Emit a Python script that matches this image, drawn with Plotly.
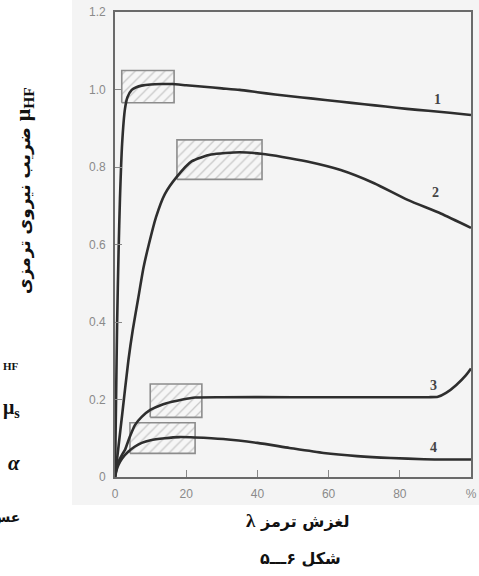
import plotly.graph_objects as go

# ---- data ----
c1_x = [0, 0.3, 0.6, 1.0, 1.4, 2.0, 2.8, 3.5, 4.7, 6, 7.5, 10, 13, 16, 20, 25, 30, 35, 40, 45, 50, 55, 63, 70, 76, 82, 88, 94, 100]
c1_y = [0, 0.2, 0.4, 0.58, 0.72, 0.86, 0.95, 0.98, 0.999, 1.006, 1.01, 1.013, 1.014, 1.014, 1.011, 1.007, 1.003, 0.999, 0.993, 0.987, 0.982, 0.977, 0.969, 0.962, 0.956, 0.95, 0.945, 0.94, 0.934]

c2_x = [0, 1, 2, 3.75, 5, 6.5, 8, 9.5, 11.5, 14, 17.4, 21.6, 27, 35, 41, 47, 54, 63.4, 72.8, 82.2, 91.5, 100]
c2_y = [0, 0.08, 0.16, 0.3, 0.38, 0.46, 0.54, 0.6, 0.67, 0.73, 0.775, 0.815, 0.832, 0.838, 0.834, 0.826, 0.814, 0.792, 0.758, 0.715, 0.68, 0.643]

c3_x = [0, 0.5, 1, 2, 2.8, 4, 5.6, 7.5, 9.9, 13, 16, 19, 22.5, 30, 50, 70, 88, 90.7, 93, 95.8, 98.6, 100]
c3_y = [0, 0.025, 0.04, 0.058, 0.07, 0.1, 0.134, 0.155, 0.173, 0.186, 0.194, 0.2, 0.205, 0.206, 0.206, 0.206, 0.206, 0.207, 0.217, 0.237, 0.263, 0.28]

c4_x = [0, 0.5, 1, 2, 3.7, 5.5, 7.5, 10, 14, 18, 22.5, 30.4, 40, 49, 58.6, 68, 77.5, 86.8, 100]
c4_y = [0, 0.02, 0.032, 0.048, 0.065, 0.078, 0.088, 0.095, 0.1, 0.103, 0.102, 0.098, 0.088, 0.075, 0.062, 0.054, 0.049, 0.046, 0.045]

# hatched tolerance boxes: x0, x1, y0, y1
box_x0 = [1.9, 17.4, 9.9, 4.2]
box_x1 = [16.6, 41.3, 24.4, 22.5]
box_y0 = [0.966, 0.768, 0.154, 0.061]
box_y1 = [1.049, 0.870, 0.240, 0.140]

curve_labels = ["1", "2", "3", "4"]
label_x = [90.7, 90.0, 89.6, 89.6]
label_y = [0.975, 0.735, 0.237, 0.077]

y_tickvals = [0, 0.2, 0.4, 0.6, 0.8, 1.0, 1.2]
y_ticktext = ["0", "0.2", "0.4", "0.6", "0.8", "1.0", "1.2"]
x_tickvals = [0, 20, 40, 60, 80, 100]
x_ticktext = ["0", "20", "40", "60", "80", "%"]

fig = go.Figure()

# boxes first (behind curves)
for i in range(len(box_x0)):
    fig.add_trace(go.Scatter(
        x=[box_x0[i], box_x1[i], box_x1[i], box_x0[i], box_x0[i]],
        y=[box_y0[i], box_y0[i], box_y1[i], box_y1[i], box_y0[i]],
        mode="lines", fill="toself",
        fillcolor="rgba(0,0,0,0)",
        fillpattern=dict(shape="/", fgcolor="#9a9a9a", bgcolor="#f6f6f6", size=7, solidity=0.18),
        line=dict(color="#8c8c8c", width=1.6),
        hoverinfo="skip", showlegend=False))

for cx, cy in [(c1_x, c1_y), (c2_x, c2_y), (c3_x, c3_y), (c4_x, c4_y)]:
    fig.add_trace(go.Scatter(x=cx, y=cy, mode="lines",
                             line=dict(color="#2e2e2e", width=2.6, shape="spline", smoothing=0.6),
                             showlegend=False, hoverinfo="skip"))

annotations = []
for t, lx, ly in zip(curve_labels, label_x, label_y):
    annotations.append(dict(x=lx, y=ly, xref="x", yref="y", text="<b>%s</b>" % t, showarrow=False,
                            font=dict(family="Liberation Serif", size=14, color="#444")))

# y-axis title (rotated)
annotations.append(dict(
    x=-0.256, y=0.617, xref="paper", yref="paper", textangle=-90,
    xanchor="center", yanchor="middle", showarrow=False,
    text="<b>ضریب نیروی ترمزی <span style='font-family:Liberation Serif;font-size:22px'>μ<sub>HF</sub></span></b>",
    font=dict(family="DejaVu Sans", size=17, color="#111")))

# x-axis title
annotations.append(dict(
    x=0.514, y=-0.0946, xref="paper", yref="paper", xanchor="center", yanchor="middle", showarrow=False,
    text="<b><span style='font-family:Liberation Serif;font-size:19px'>λ</span> لغزش ترمز</b>",
    font=dict(family="DejaVu Sans", size=16, color="#111")))

# figure caption
annotations.append(dict(
    x=0.522, y=-0.176, xref="paper", yref="paper", xanchor="center", yanchor="middle", showarrow=False,
    text="<b>۵\u200eـــ\u200e۶ شکل</b>",
    font=dict(family="DejaVu Sans", size=16, color="#111")))

# clipped fragments of neighbouring page text at the left edge
annotations += [
    dict(x=-0.2635, y=0.238, xref="paper", yref="paper", xanchor="right", yanchor="middle", showarrow=False,
         text="<b>HF</b>", font=dict(family="Liberation Serif", size=11, color="#111")),
    dict(x=-0.261, y=0.148, xref="paper", yref="paper", xanchor="right", yanchor="middle", showarrow=False,
         text="<b>μ<sub>s</sub></b>", font=dict(family="Liberation Serif", size=20, color="#111")),
    dict(x=-0.262, y=0.030, xref="paper", yref="paper", xanchor="right", yanchor="middle", showarrow=False,
         text="<b><i>α</i></b>", font=dict(family="Liberation Serif", size=21, color="#111")),
    dict(x=-0.262, y=-0.086, xref="paper", yref="paper", xanchor="right", yanchor="middle", showarrow=False,
         text="<b>عس</b>", font=dict(family="DejaVu Sans", size=14, color="#111")),
]

fig.update_layout(
    width=479, height=576,
    margin=dict(l=115, r=8, t=12, b=99, autoexpand=False),
    paper_bgcolor="white", plot_bgcolor="rgba(0,0,0,0)",
    annotations=annotations,
    shapes=[dict(type="rect", xref="paper", yref="paper", x0=-0.121, x1=1.03, y0=-0.060, y1=1.03,
                 fillcolor="#f4f4f4", line=dict(width=0), layer="below")],
    showlegend=False,
)
fig.update_xaxes(range=[0, 100], tickvals=x_tickvals, ticktext=x_ticktext,
                 ticks="inside", ticklen=7, tickwidth=1.3, tickcolor="#888",
                 showline=True, linecolor="#6a6a6a", linewidth=1.8, mirror=True,
                 showgrid=False, zeroline=False, ticklabelstandoff=5, automargin=False,
                 tickfont=dict(family="Liberation Sans", size=12, color="#8a8a8a"))
fig.update_yaxes(range=[0, 1.2], tickvals=y_tickvals, ticktext=y_ticktext,
                 ticks="inside", ticklen=7, tickwidth=1.3, tickcolor="#888",
                 showline=True, linecolor="#6a6a6a", linewidth=1.8, mirror=True,
                 showgrid=False, zeroline=False, ticklabelstandoff=5, automargin=False,
                 tickfont=dict(family="Liberation Sans", size=12, color="#8a8a8a"))

fig.write_html("out.html", config={"displayModeBar": False},
               post_script="document.body.style.margin='0';document.body.style.overflow='hidden';")
